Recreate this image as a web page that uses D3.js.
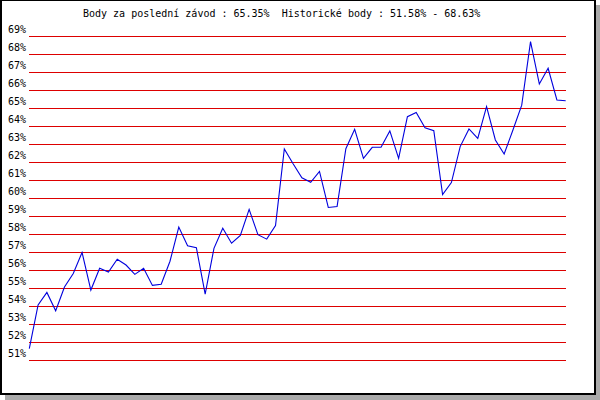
<!DOCTYPE html>
<html>
<head>
<meta charset="utf-8">
<script src="https://cdn.jsdelivr.net/npm/d3@7"></script>
<style>
body { margin: 0; background: #fff; }
.font { font-family: "DejaVu Sans Mono", "Liberation Mono", monospace; font-size: 10px; fill: #000; }
</style>
</head>
<body>
<div class="render"></div>
<script>
'use strict';

var title = 'Body za poslední závod : 65.35%  Historické body : 51.58% - 68.63%';
var ticks = [51, 52, 53, 54, 55, 56, 57, 58, 59, 60, 61, 62, 63, 64, 65, 66, 67, 68, 69];
var points = [51.58, 54.0, 54.7, 53.68, 55.0, 55.75, 56.92, 54.83, 56.04, 55.83,
   56.54, 56.22, 55.7, 56.04, 55.09, 55.15, 56.43, 58.33, 57.29, 57.18,
   54.6, 57.15, 58.26, 57.43, 57.87, 59.31, 57.91, 57.66, 58.42, 62.67,
   61.85, 61.07, 60.82, 61.42, 59.42, 59.47, 62.68, 63.76, 62.15, 62.76,
   62.77, 63.67, 62.15, 64.46, 64.7, 63.85, 63.68, 60.13, 60.8, 62.8,
   63.78, 63.26, 65.02, 63.17, 62.39, 63.72, 65.1, 68.63, 66.28, 67.15,
   65.39, 65.35];

function draw() {
   var w = 600;
   var h = 400;
   var left = 29;
   var right = 566;

   var svg = d3.select('.render').append('svg').attr('width', w).attr('height', h).style('display', 'block');

   // frame with shadow
   svg.append('rect').attr('x', 5).attr('y', 5).attr('width', 595).attr('height', 395).attr('fill', '#aaaaaa');
   svg.append('rect').attr('x', 0).attr('y', 0).attr('width', 596).attr('height', 395).attr('fill', '#000');
   svg.append('rect').attr('x', 2).attr('y', 1).attr('width', 592).attr('height', 392).attr('fill', '#fff');

   var yScale = d3.scaleLinear().domain([51, 69]).range([359, 35]);
   var xScale = d3.scaleLinear().domain([0, points.length - 1]).range([left + 0.3, right - 0.3]);

   var yAxis = d3.axisLeft(yScale).tickValues(ticks).tickSize(-(right - left)).tickFormat(function (d) {
      return d + '%';
   });
   var g = svg.append('g').attr('transform', 'translate(' + left + ',0.5)').call(yAxis);
   g.select('.domain').remove();
   g.selectAll('.tick line').attr('stroke', '#dd0000').attr('shape-rendering', 'crispEdges');
   g.selectAll('.tick text').attr('class', 'font').attr('x', -3).attr('dy', -3)
      .style('font-family', '"DejaVu Sans Mono", monospace').style('font-size', '10px').attr('fill', '#000');

   var line = d3.line().x(function (d, i) {
      return xScale(i);
   }).y(function (d) {
      return yScale(d);
   });
   svg.append('path').datum(points).attr('d', line).attr('fill', 'none').attr('stroke', '#0000dd').attr('stroke-width', 1.1);

   svg.append('text').text(title).attr('x', 83).attr('y', 17).attr('class', 'font').style('white-space', 'pre');
}

draw();
</script>
</body>
</html>
